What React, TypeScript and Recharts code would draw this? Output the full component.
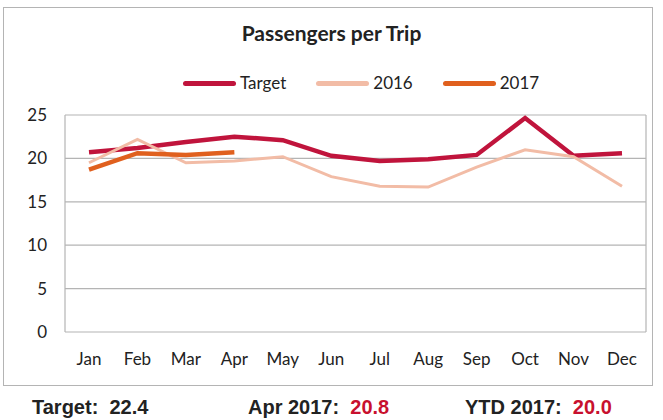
import React from "react";
import { LineChart, Line, XAxis, YAxis, CartesianGrid } from "recharts";

const months = ["Jan", "Feb", "Mar", "Apr", "May", "Jun", "Jul", "Aug", "Sep", "Oct", "Nov", "Dec"];
const target = [20.7, 21.2, 21.9, 22.5, 22.1, 20.3, 19.7, 19.9, 20.4, 24.65, 20.3, 20.6];
const y2016 = [19.5, 22.2, 19.5, 19.7, 20.2, 17.9, 16.8, 16.7, 19.0, 21.0, 20.2, 16.8];
const y2017: (number | null)[] = [18.7, 20.6, 20.4, 20.7, null, null, null, null, null, null, null, null];
const yTicks = [0, 5, 10, 15, 20, 25];

const data = months.map((m, i) => ({ month: m, Target: target[i], "2016": y2016[i], "2017": y2017[i] }));

const series = [
  { key: "Target", color: "#c0143c", width: 4.5 },
  { key: "2016", color: "#f2bca6", width: 3 },
  { key: "2017", color: "#e0601e", width: 4.5 },
];

const boldText: React.CSSProperties = {
  position: "absolute",
  top: 396,
  fontFamily: "'Liberation Sans', Arial, sans-serif",
  fontWeight: 700,
  fontSize: 20,
  color: "#222",
  whiteSpace: "pre",
  lineHeight: "22px",
};

export default function App() {
  return (
    <div style={{ position: "absolute", left: 0, top: 0, width: 663, height: 420, background: "#fff" }}>
      <div
        style={{
          position: "absolute",
          left: 3,
          top: 7,
          width: 648,
          height: 377,
          border: "1.5px solid #b4b4b4",
        }}
      />
      <div
        style={{
          position: "absolute",
          left: 0,
          top: 20,
          width: 663,
          textAlign: "center",
          fontFamily: "Lato",
          fontWeight: 700,
          fontSize: 21,
          color: "#222",
          lineHeight: "26px",
        }}
      >
        Passengers per Trip
      </div>
      <div
        style={{
          position: "absolute",
          left: 183,
          top: 73,
          display: "flex",
          gap: 30,
          alignItems: "center",
          fontFamily: "Lato",
          fontSize: 17,
          color: "#222",
        }}
      >
        {series.map((s) => (
          <div key={s.key} style={{ display: "flex", alignItems: "center" }}>
            <div style={{ width: 53, height: 5, borderRadius: 2.5, background: s.color, marginRight: 4 }} />
            <span style={{ lineHeight: "20px" }}>{s.key}</span>
          </div>
        ))}
      </div>
      <div style={{ position: "absolute", left: 0, top: 0 }}>
        <LineChart width={663} height={420} data={data} margin={{ top: 115, right: 17, left: 5, bottom: 58 }}>
          <CartesianGrid vertical={true} verticalPoints={[65, 646]} stroke="#b4b4b4" strokeWidth={1.2} />
          <XAxis
            dataKey="month"
            axisLine={false}
            tickLine={false}
            tickSize={0}
            tickMargin={21}
            height={30}
            padding={{ left: 24, right: 24 }}
            tick={{ fontFamily: "Lato", fontSize: 17, fill: "#222" }}
            interval={0}
          />
          <YAxis
            domain={[0, 25]}
            ticks={yTicks}
            axisLine={false}
            tickLine={false}
            tickSize={0}
            tickMargin={18}
            width={60}
            tick={{ fontFamily: "Lato", fontSize: 17, fill: "#222" }}
          />
          {series.map((s) => (
            <Line
              key={s.key}
              type="linear"
              dataKey={s.key}
              stroke={s.color}
              strokeWidth={s.width}
              dot={false}
              connectNulls={false}
              isAnimationActive={false}
            />
          ))}
        </LineChart>
      </div>
      <div style={{ ...boldText, left: 32 }}>{"Target:  22.4"}</div>
      <div style={{ ...boldText, left: 248 }}>
        {"Apr 2017:  "}
        <span style={{ color: "#c8102e" }}>20.8</span>
      </div>
      <div style={{ ...boldText, left: 465 }}>
        {"YTD 2017:  "}
        <span style={{ color: "#c8102e" }}>20.0</span>
      </div>
    </div>
  );
}
